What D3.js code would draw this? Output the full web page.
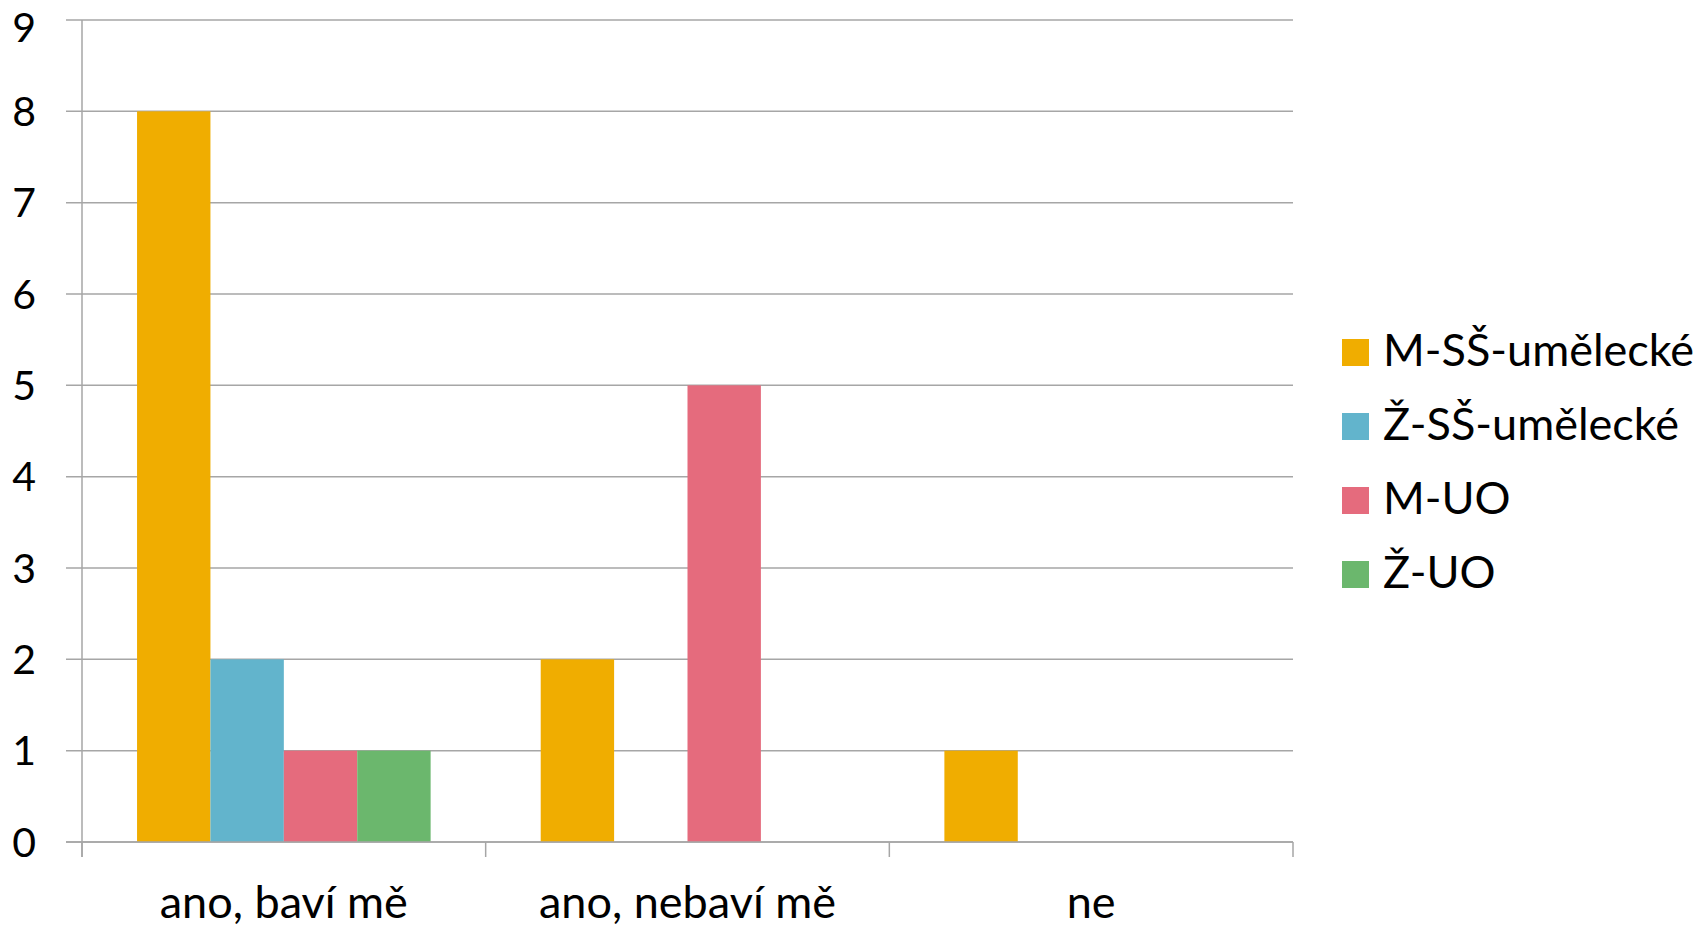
<!DOCTYPE html>
<meta charset="utf-8">
<style>
    body { margin: 0; background: #fff; }
    text { font-family: Lato, "Open Sans", sans-serif; fill: #000; }
</style>
<svg width="1700" height="929"></svg>
<script src="https://d3js.org/d3.v7.min.js"></script>
<script>

    var categories = ["ano, baví mě", "ano, nebaví mě", "ne"];
    var series = ["M-SŠ-umělecké", "Ž-SŠ-umělecké", "M-UO", "Ž-UO"];
    var colors = ["#f0ad00", "#62b4cc", "#e56b7d", "#6bb76d"];
    var values = [
        [8, 2, 1],   // M-SŠ-umělecké
        [2, 0, 0],   // Ž-SŠ-umělecké
        [1, 5, 0],   // M-UO
        [1, 0, 0]    // Ž-UO
    ];
    var yTicks = [0, 1, 2, 3, 4, 5, 6, 7, 8, 9];

    var svg = d3.select("svg"),
        plotLeft = 82, plotRight = 1293, plotTop = 20, plotBottom = 842;

    var x0 = d3.scaleBand().domain(categories).range([plotLeft, plotRight]).padding(0);
    var x1 = d3.scaleBand().domain(series).range([0, x0.bandwidth()])
        .paddingInner(0).paddingOuter(0.75);
    var y = d3.scaleLinear().domain([0, 9]).range([plotBottom, plotTop]);
    var color = d3.scaleOrdinal().domain(series).range(colors);

    // gridlines
    svg.append("g").selectAll("line")
        .data(yTicks)
        .enter().append("line")
        .attr("x1", plotLeft - 16).attr("x2", plotRight)
        .attr("y1", function(d) { return y(d); })
        .attr("y2", function(d) { return y(d); })
        .attr("stroke", "#a6a6a6").attr("stroke-width", 1.5);

    // top label pushed down a little so it stays inside the picture
    svg.append("g").selectAll("text")
        .data(yTicks)
        .enter().append("text")
        .attr("x", 36)
        .attr("y", function(d) { return Math.max(y(d), 27); })
        .attr("dy", "0.36em")
        .attr("text-anchor", "end")
        .style("font-size", "41px")
        .text(function(d) { return d; });

    // bars
    var rows = [];
    series.forEach(function(s, i) {
        categories.forEach(function(c, j) {
            rows.push({ s: s, c: c, v: values[i][j] });
        });
    });

    svg.append("g").selectAll("rect")
        .data(rows.filter(function(d) { return d.v > 0; }))
        .enter().append("rect")
        .attr("x", function(d) { return x0(d.c) + x1(d.s); })
        .attr("width", x1.bandwidth())
        .attr("y", function(d) { return y(d.v); })
        .attr("height", function(d) { return y(0) - y(d.v); })
        .attr("fill", function(d) { return color(d.s); });

    // axes
    svg.append("line")
        .attr("x1", plotLeft).attr("x2", plotLeft)
        .attr("y1", plotTop).attr("y2", plotBottom + 15)
        .attr("stroke", "#a6a6a6").attr("stroke-width", 1.5);

    svg.append("line")
        .attr("x1", plotLeft - 16).attr("x2", plotRight)
        .attr("y1", plotBottom).attr("y2", plotBottom)
        .attr("stroke", "#a6a6a6").attr("stroke-width", 1.5);

    var bounds = categories.map(function(c) { return x0(c); }).concat([plotRight]);
    svg.append("g").selectAll("line")
        .data(bounds)
        .enter().append("line")
        .attr("x1", function(d) { return d; }).attr("x2", function(d) { return d; })
        .attr("y1", plotBottom).attr("y2", plotBottom + 15)
        .attr("stroke", "#a6a6a6").attr("stroke-width", 1.5);

    svg.append("g").selectAll("text")
        .data(categories)
        .enter().append("text")
        .attr("x", function(d) { return x0(d) + x0.bandwidth() / 2; })
        .attr("y", 918)
        .attr("text-anchor", "middle")
        .style("font-size", "45px")
        .text(function(d) { return d; });

    // legend
    var legend = svg.append("g").selectAll("g")
        .data(series)
        .enter().append("g")
        .attr("transform", function(d, i) { return "translate(1342," + (339 + i * 74) + ")"; });

    legend.append("rect")
        .attr("width", 27).attr("height", 27)
        .attr("fill", function(d) { return color(d); });

    legend.append("text")
        .attr("x", 41).attr("y", 27)
        .style("font-size", "45px")
        .text(function(d) { return d; });

</script>
